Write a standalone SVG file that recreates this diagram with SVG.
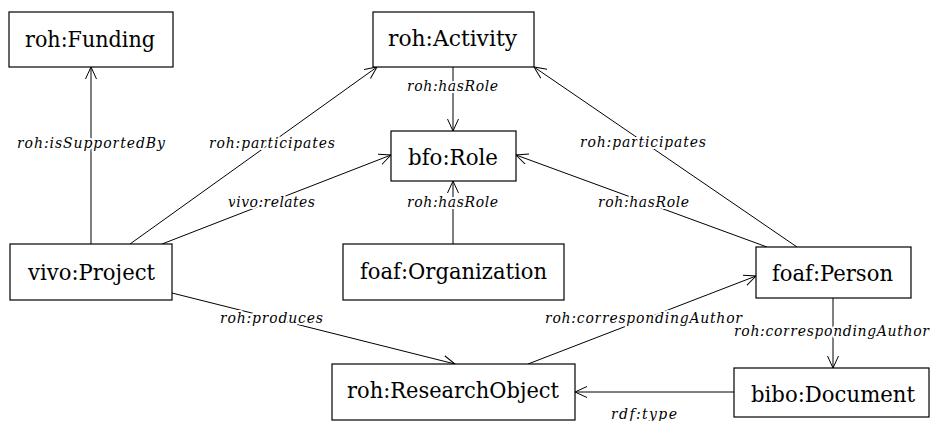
<svg xmlns="http://www.w3.org/2000/svg" width="930" height="421" viewBox="0 0 930 421">
<style>
.box{fill:#fff;stroke:#000;stroke-width:1.2}
.nt{font-family:'DejaVu Serif','Noto Serif','Liberation Serif',serif;font-size:23px;text-anchor:middle;fill:#000}
.e{stroke:#000;stroke-width:1;fill:none;marker-end:url(#arr)}
.lb{font-family:'DejaVu Serif','Noto Serif','Liberation Serif',serif;font-size:14px;font-style:italic;fill:#000;stroke:#fff;stroke-width:4;paint-order:stroke;stroke-linejoin:round}
</style>
<defs>
<marker id="arr" markerWidth="14" markerHeight="14" refX="12" refY="6" orient="auto" markerUnits="userSpaceOnUse">
<path d="M0,0.5 L12,6 L0,11.5" fill="none" stroke="#000" stroke-width="1"/>
</marker>
</defs>
<rect width="930" height="421" fill="#fff"/>
<g id="connectors">
<line class="e" x1="91" y1="244" x2="91" y2="67"/>
<line class="e" x1="130" y1="244" x2="377" y2="67"/>
<line class="e" x1="162" y1="244" x2="391" y2="155"/>
<line class="e" x1="453" y1="67" x2="453" y2="131"/>
<line class="e" x1="453" y1="244" x2="453" y2="181"/>
<line class="e" x1="797" y1="247" x2="534" y2="67"/>
<line class="e" x1="767" y1="247" x2="516" y2="155"/>
<line class="e" x1="172" y1="293" x2="455" y2="364"/>
<line class="e" x1="528" y1="364" x2="756" y2="276"/>
<line class="e" x1="833" y1="298" x2="833" y2="368"/>
<line class="e" x1="734" y1="392" x2="575" y2="392"/>
<text class="lb" x="17" y="148" textLength="148" lengthAdjust="spacing">roh:isSupportedBy</text>
<text class="lb" x="209" y="148" textLength="126" lengthAdjust="spacing">roh:participates</text>
<text class="lb" x="407" y="91" textLength="91" lengthAdjust="spacing">roh:hasRole</text>
<text class="lb" x="228" y="207" textLength="87" lengthAdjust="spacing">vivo:relates</text>
<text class="lb" x="407" y="207" textLength="91" lengthAdjust="spacing">roh:hasRole</text>
<text class="lb" x="580" y="147" textLength="126" lengthAdjust="spacing">roh:participates</text>
<text class="lb" x="598" y="207" textLength="91" lengthAdjust="spacing">roh:hasRole</text>
<text class="lb" x="220" y="323" textLength="103" lengthAdjust="spacing">roh:produces</text>
<text class="lb" x="545" y="323" textLength="197" lengthAdjust="spacing">roh:correspondingAuthor</text>
<text class="lb" x="734" y="336" textLength="195" lengthAdjust="spacing">roh:correspondingAuthor</text>
<text class="lb" x="611" y="419" textLength="66" lengthAdjust="spacing">rdf:type</text>
</g>
<g id="funding"><rect class="box" x="9" y="12" width="164" height="55"/><text class="nt" x="90" y="47" textLength="130" lengthAdjust="spacingAndGlyphs">roh:Funding</text></g>
<g id="activity"><rect class="box" x="373" y="12" width="161" height="55"/><text class="nt" x="452.5" y="46" textLength="129" lengthAdjust="spacingAndGlyphs">roh:Activity</text></g>
<g id="role"><rect class="box" x="391" y="131" width="125" height="50"/><text class="nt" x="453" y="165" textLength="90" lengthAdjust="spacingAndGlyphs">bfo:Role</text></g>
<g id="project"><rect class="box" x="10" y="244" width="162" height="56"/><text class="nt" x="91.5" y="280" textLength="127" lengthAdjust="spacingAndGlyphs">vivo:Project</text></g>
<g id="organization"><rect class="box" x="343" y="244" width="221" height="56"/><text class="nt" x="453.5" y="279" textLength="187" lengthAdjust="spacingAndGlyphs">foaf:Organization</text></g>
<g id="person"><rect class="box" x="756" y="247" width="155" height="51"/><text class="nt" x="832.5" y="281" textLength="121" lengthAdjust="spacingAndGlyphs">foaf:Person</text></g>
<g id="researchobject"><rect class="box" x="332" y="364" width="243" height="56"/><text class="nt" x="453" y="398" textLength="212" lengthAdjust="spacingAndGlyphs">roh:ResearchObject</text></g>
<g id="document"><rect class="box" x="734" y="368" width="195" height="49"/><text class="nt" x="833" y="402" textLength="164" lengthAdjust="spacingAndGlyphs">bibo:Document</text></g>
</svg>
